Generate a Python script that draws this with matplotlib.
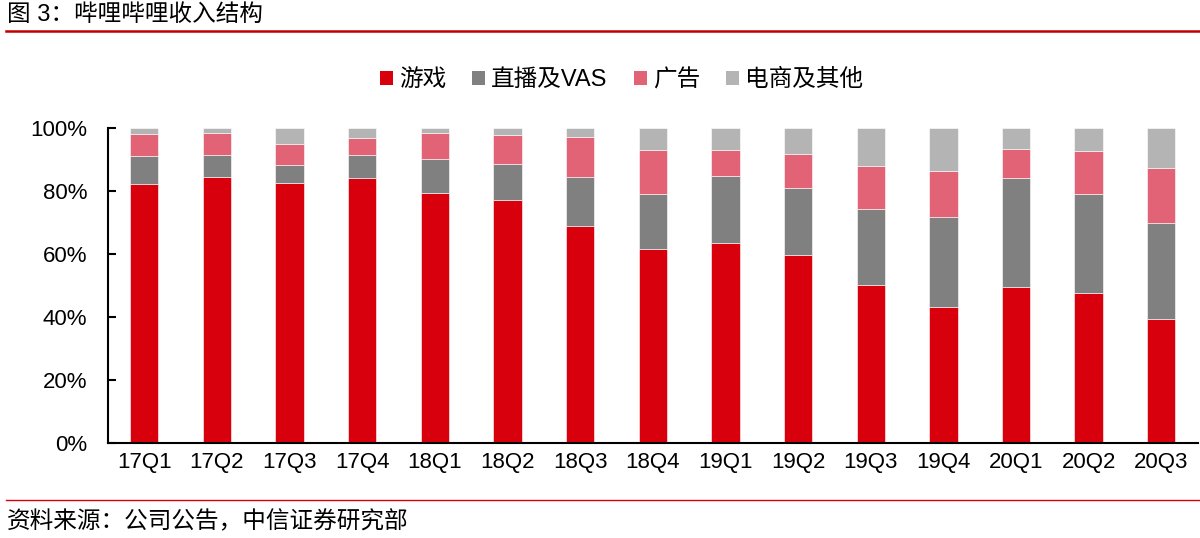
import numpy as np
import matplotlib
matplotlib.use('Agg')
import matplotlib.pyplot as plt
from matplotlib.lines import Line2D
from matplotlib.patches import Patch

plt.rcParams['font.family'] = ['Liberation Sans', 'Noto Sans CJK SC', 'DejaVu Sans']

# data (share of revenue, %)
quarters = ['17Q1', '17Q2', '17Q3', '17Q4', '18Q1', '18Q2', '18Q3', '18Q4',
            '19Q1', '19Q2', '19Q3', '19Q4', '20Q1', '20Q2', '20Q3']
games = [82.2, 84.3, 82.5, 84.1, 79.3, 77.0, 68.9, 61.6, 63.5, 59.8, 50.1, 43.2, 49.5, 47.5, 39.3]
live_vas = [9.0, 7.1, 5.8, 7.3, 10.9, 11.6, 15.7, 17.6, 21.3, 21.2, 24.3, 28.6, 34.5, 31.7, 30.5]
ads = [6.9, 7.1, 6.7, 5.4, 8.3, 9.3, 12.7, 13.7, 8.1, 10.9, 13.4, 14.5, 9.2, 13.4, 17.4]
ecom = [1.9, 1.5, 5.0, 3.2, 1.5, 2.1, 2.7, 7.1, 7.1, 8.1, 12.2, 13.7, 6.8, 7.4, 12.8]

series = ['游戏', '直播及VAS', '广告', '电商及其他']
colors = ['#D9000D', '#808080', '#E26276', '#B4B4B4']

fig = plt.figure(figsize=(12, 5.38), dpi=100)
ax = fig.add_axes([0.09, 0.177, 0.908, 0.585])

x = np.arange(len(quarters))
bottom = np.zeros(len(quarters))
for vals, c in zip([games, live_vas, ads, ecom], colors):
    ax.bar(x, vals, 0.39, bottom=bottom, color=c, edgecolor='white', linewidth=0.4)
    bottom += np.array(vals)

ax.set_xlim(-0.5, len(quarters) - 0.5)
ax.set_ylim(0, 100)
ax.set_yticks(range(0, 101, 20))
ax.set_yticklabels([f'{v}%' for v in range(0, 101, 20)])
ax.set_xticks(x)
ax.set_xticklabels(quarters)
ax.tick_params(axis='y', direction='in', length=6, width=1.5, pad=15, labelsize=16)
ax.tick_params(axis='x', length=0, pad=7, labelsize=16)
for s in ['top', 'right']:
    ax.spines[s].set_visible(False)
ax.spines['left'].set_linewidth(1.5)
ax.spines['bottom'].set_linewidth(1.5)

handles = [Patch(facecolor=c, edgecolor='none') for c in colors]
fig.legend(handles, series, loc='center', bbox_to_anchor=(0.518, 1 - 80 / 538), ncol=4,
           frameon=False, fontsize=17, handlelength=0.55, handleheight=0.55,
           handletextpad=0.25, columnspacing=1.1)

# header / footer
fig.text(0.006, 1 - 15 / 538, '图 3：哔哩哔哩收入结构', fontsize=17, va='center', ha='left')
fig.add_artist(Line2D([0.005, 1.0], [1 - 31 / 538] * 2, color='#C00000', linewidth=1.8))
fig.add_artist(Line2D([0.005, 1.0], [1 - 500 / 538] * 2, color='#D9000D', linewidth=1.0))
fig.text(0.006, 1 - 522 / 538, '资料来源：公司公告，中信证券研究部', fontsize=17, va='center', ha='left')

fig.savefig('out.png', dpi=100)
